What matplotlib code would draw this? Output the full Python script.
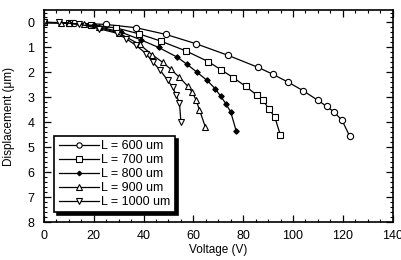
import matplotlib.pyplot as plt
from matplotlib.ticker import MultipleLocator

# Deflection curves
v_600 = [0, 12, 25, 37, 49, 61, 74, 86, 92, 98, 104, 110, 113.5, 116.5, 119.7, 122.8]
d_600 = [0, 0.02, 0.08, 0.21, 0.48, 0.85, 1.32, 1.8, 2.08, 2.39, 2.73, 3.12, 3.36, 3.59, 3.92, 4.56]

v_700 = [0, 10, 19, 29, 38, 47, 57, 66, 71, 76, 81, 85.6, 88, 90.2, 92.7, 94.9]
d_700 = [0, 0.03, 0.1, 0.22, 0.45, 0.75, 1.14, 1.57, 1.89, 2.21, 2.56, 2.92, 3.12, 3.45, 3.79, 4.5]

v_800 = [0, 10, 20, 31, 39, 46, 53.5, 57.5, 61.5, 65.5, 68.7, 71, 73, 75, 77.2]
d_800 = [0, 0.03, 0.12, 0.39, 0.7, 1.0, 1.39, 1.68, 2.0, 2.32, 2.65, 2.96, 3.25, 3.59, 4.35]

v_900 = [0, 7, 10, 16, 22, 30, 38.4, 43.5, 47.7, 51, 54.4, 57.7, 59.5, 61, 62.4, 64.8]
d_900 = [0, 0.01, 0.03, 0.08, 0.2, 0.42, 0.88, 1.3, 1.6, 1.88, 2.2, 2.55, 2.79, 3.09, 3.49, 4.19]

v_1000 = [0, 6, 14, 22, 29.3, 33, 37, 41, 43.7, 46.7, 49.7, 51.7, 53, 54.4, 55]
d_1000 = [0, 0.0, 0.06, 0.25, 0.43, 0.65, 0.92, 1.25, 1.59, 1.92, 2.32, 2.6, 2.89, 3.23, 4.0]

labels = ["L = 600 um", "L = 700 um", "L = 800 um", "L = 900 um", "L = 1000 um"]

plt.rcParams.update({
  "font.family": "Liberation Sans",
  "font.size": 8.5,
})

fig = plt.figure(figsize=(4.02, 2.6), dpi=100)
ax = fig.add_axes([0.1095, 0.146, 0.867, 0.8155])

series = [
  (v_600, d_600, "o", "white", 4.5),
  (v_700, d_700, "s", "white", 4.5),
  (v_800, d_800, "D", "black", 2.8),
  (v_900, d_900, "^", "white", 4.8),
  (v_1000, d_1000, "v", "white", 4.8),
]
for (v, d, mk, fc, ms), lab in zip(series, labels):
  ax.plot(v, d, color="black", linewidth=0.9, marker=mk, markersize=ms,
          markerfacecolor=fc, markeredgecolor="black", markeredgewidth=0.8,
          label=lab)

ax.set_xlim(0, 140)
ax.set_ylim(8, -0.5)
ax.xaxis.set_major_locator(MultipleLocator(20))
ax.xaxis.set_minor_locator(MultipleLocator(5))
ax.yaxis.set_major_locator(MultipleLocator(1))
ax.yaxis.set_minor_locator(MultipleLocator(0.2))
ax.tick_params(which="both", direction="in", top=True, right=True, colors="black")
ax.tick_params(which="major", length=5, width=0.9, labelsize=9)
ax.tick_params(which="minor", length=2.5, width=0.8)
ax.tick_params(axis="x", pad=6)
ax.tick_params(axis="y", pad=7)
for s in ax.spines.values():
  s.set_linewidth(1.2)

ax.set_xlabel("Voltage (V)", labelpad=1)
ax.set_ylabel("Displacement (\u03bcm)", labelpad=9)

leg = ax.legend(loc="lower left", bbox_to_anchor=(0.03, 0.045), fancybox=False,
                shadow={"color": "black", "alpha": 1}, edgecolor="black",
                framealpha=1, handlelength=3.2, handletextpad=0.2,
                labelspacing=0.16, borderpad=0.35, borderaxespad=0,
                markerscale=0.85, fontsize=9)
leg.get_frame().set_linewidth(1.2)

fig.savefig("out.png", dpi=100)
plt.close()
